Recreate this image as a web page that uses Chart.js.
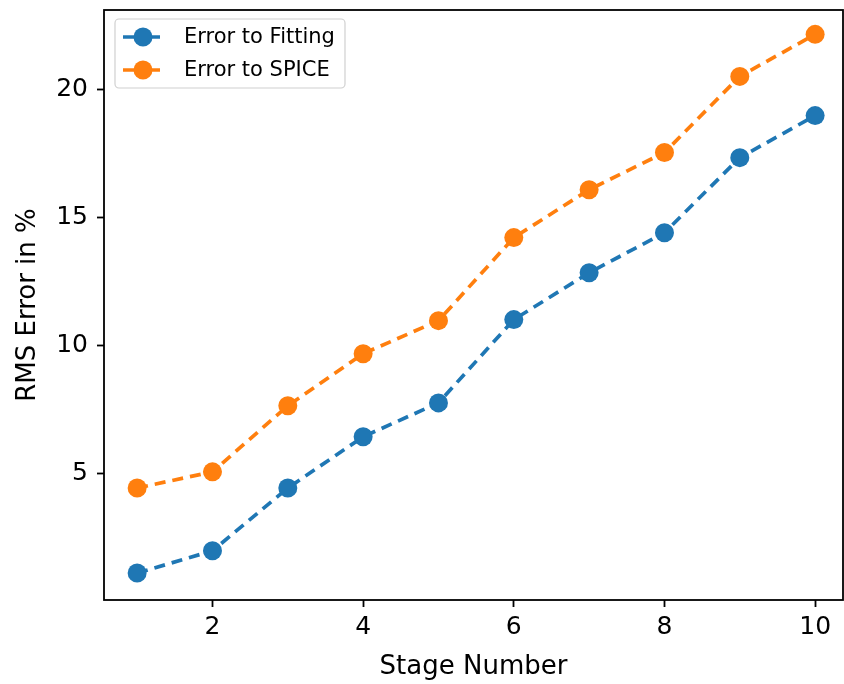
<!DOCTYPE html>
<html>
<head>
<meta charset="utf-8">
<script src="https://cdn.jsdelivr.net/npm/chart.js@4"></script>
<style>
  html, body { margin: 0; padding: 0; background: #fff; }
  #wrap { width: 844px; height: 684px; }
</style>
</head>
<body>
<div id="wrap"><canvas id="chart" width="844" height="684"></canvas></div>
<script>
const stages = [1, 2, 3, 4, 5, 6, 7, 8, 9, 10];
const errorFitting = [1.13, 2.0, 4.45, 6.45, 7.77, 11.02, 12.85, 14.41, 17.34, 18.98];
const errorSpice = [4.45, 5.08, 7.66, 9.69, 10.98, 14.22, 16.09, 17.54, 20.51, 22.15];
const xTicks = [2, 4, 6, 8, 10];
const yTicks = [5, 10, 15, 20];

const FONT = "'DejaVu Sans', sans-serif";
const BLUE = '#1f77b4';
const ORANGE = '#ff7f0e';
const DASH = [11, 7];

function toPoints(values) {
    return stages.map((s, i) => ({ x: s, y: values[i] }));
}

// frame around the plot area plus the matplotlib style legend box
const framePlugin = {
    id: 'frame',
    afterDraw(chart) {
        const { ctx, chartArea: a } = chart;
        ctx.save();
        ctx.strokeStyle = '#000';
        ctx.lineWidth = 1.8;
        ctx.strokeRect(a.left, a.top, a.right - a.left, a.bottom - a.top);

        // legend
        const bx = a.left + 11, by = a.top + 9, bw = 230, bh = 69;
        ctx.beginPath();
        ctx.roundRect(bx, by, bw, bh, 4);
        ctx.fillStyle = 'rgba(255,255,255,0.8)';
        ctx.fill();
        ctx.strokeStyle = '#d0d0d0';
        ctx.lineWidth = 1.2;
        ctx.stroke();

        const items = [
            { label: 'Error to Fitting', color: BLUE },
            { label: 'Error to SPICE', color: ORANGE }
        ];
        items.forEach((it, i) => {
            const cy = by + 18 + i * 33;
            ctx.strokeStyle = it.color;
            ctx.lineWidth = 3.7;
            ctx.beginPath();
            ctx.moveTo(bx + 8, cy);
            ctx.lineTo(bx + 45, cy);
            ctx.stroke();
            ctx.fillStyle = it.color;
            ctx.beginPath();
            ctx.arc(bx + 28, cy, 9.5, 0, Math.PI * 2);
            ctx.fill();
            ctx.fillStyle = '#000';
            ctx.font = '21px ' + FONT;
            ctx.textBaseline = 'middle';
            ctx.textAlign = 'left';
            ctx.fillText(it.label, bx + 69, cy + 1);
        });
        ctx.restore();
    }
};

function makeDataset(label, values, color) {
    return {
        label: label,
        data: toPoints(values),
        borderColor: color,
        backgroundColor: color,
        borderWidth: 3.7,
        borderDash: DASH,
        pointRadius: 9.5,
        pointHoverRadius: 9.5,
        pointBorderWidth: 0,
        tension: 0
    };
}

new Chart(document.getElementById('chart'), {
    type: 'line',
    data: {
        datasets: [
            makeDataset('Error to Fitting', errorFitting, BLUE),
            makeDataset('Error to SPICE', errorSpice, ORANGE)
        ]
    },
    options: {
        responsive: false,
        animation: false,
        layout: { autoPadding: false, padding: { top: 10, right: 1, left: 0, bottom: 0 } },
        plugins: {
            legend: { display: false },
            tooltip: { enabled: false }
        },
        scales: {
            x: {
                type: 'linear',
                min: 0.56,
                max: 10.37,
                afterBuildTicks(scale) {
                    scale.ticks = xTicks.map(v => ({ value: v }));
                },
                afterFit(scale) {
                    scale.height = 84;
                    scale.paddingLeft = 0;
                    scale.paddingRight = 0;
                },
                grid: {
                    drawOnChartArea: false,
                    drawTicks: true,
                    tickLength: 7,
                    tickWidth: 1.8,
                    tickColor: '#000'
                },
                border: { display: false },
                ticks: {
                    color: '#000',
                    padding: 5,
                    font: { family: FONT, size: 25 }
                },
                title: {
                    display: true,
                    text: 'Stage Number',
                    color: '#000',
                    padding: { top: 0, bottom: 1 },
                    font: { family: FONT, size: 26 }
                }
            },
            y: {
                type: 'linear',
                min: 0.08,
                max: 23.1,
                afterBuildTicks(scale) {
                    scale.ticks = yTicks.map(v => ({ value: v }));
                },
                afterFit(scale) {
                    scale.width = 104;
                    scale.paddingTop = 0;
                    scale.paddingBottom = 0;
                },
                grid: {
                    drawOnChartArea: false,
                    drawTicks: true,
                    tickLength: 7,
                    tickWidth: 1.8,
                    tickColor: '#000'
                },
                border: { display: false },
                ticks: {
                    color: '#000',
                    padding: 9,
                    font: { family: FONT, size: 25 }
                },
                title: {
                    display: true,
                    text: 'RMS Error in %',
                    color: '#000',
                    padding: { top: 13, bottom: 0 },
                    font: { family: FONT, size: 26 }
                }
            }
        }
    },
    plugins: [framePlugin]
});
</script>
</body>
</html>
